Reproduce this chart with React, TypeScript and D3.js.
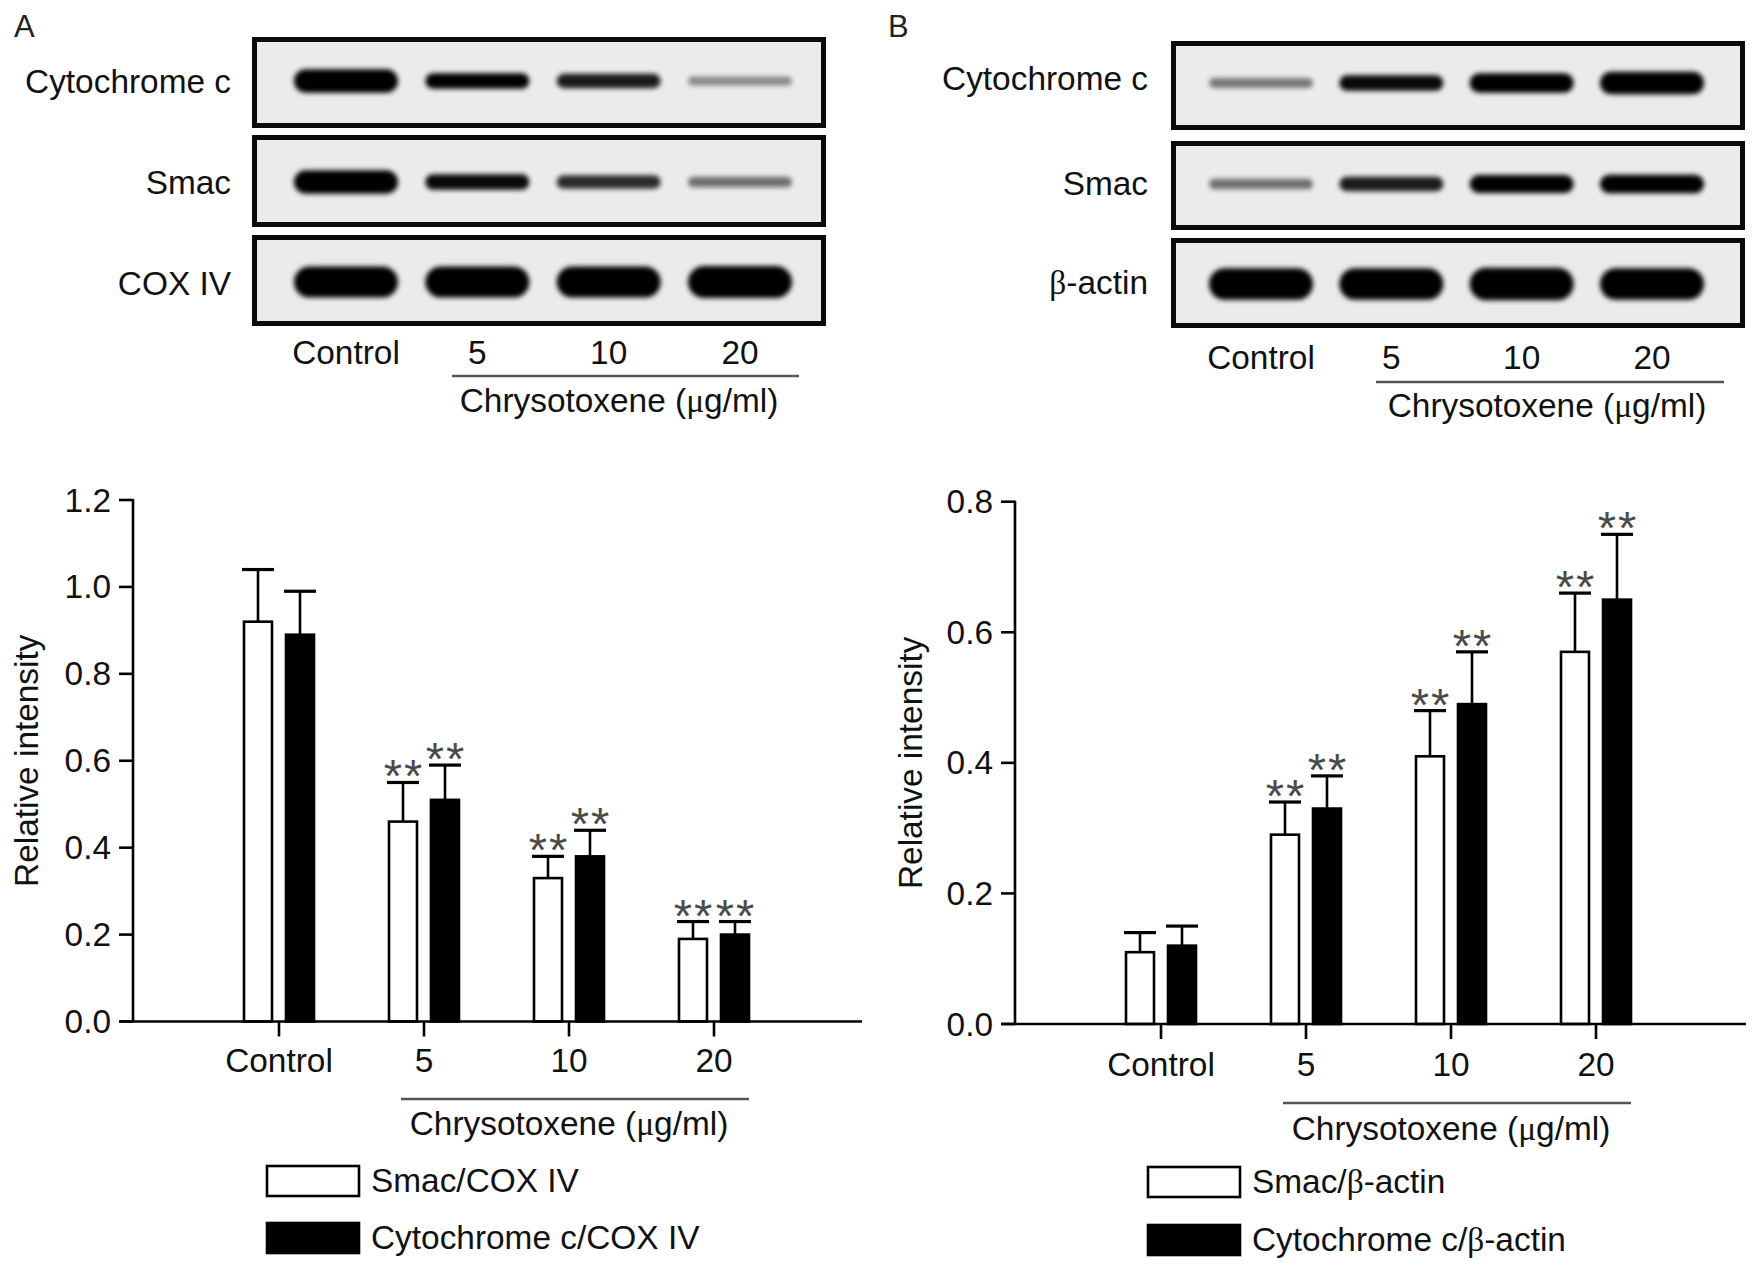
import React from "react";
import * as d3 from "d3";

// ---------- Data ----------
const categories = ["Control", "5", "10", "20"];

// Panel A (mitochondrial fraction, normalised to COX IV)
const smacA = [0.92, 0.46, 0.33, 0.19];
const smacAErr = [0.12, 0.09, 0.05, 0.04];
const cytA = [0.89, 0.51, 0.38, 0.2];
const cytAErr = [0.1, 0.08, 0.06, 0.03];
const sigA = [false, true, true, true];
const yTicksA = [0, 0.2, 0.4, 0.6, 0.8, 1.0, 1.2];

// Panel B (cytosolic fraction, normalised to beta-actin)
const smacB = [0.11, 0.29, 0.41, 0.57];
const smacBErr = [0.03, 0.05, 0.07, 0.09];
const cytB = [0.12, 0.33, 0.49, 0.65];
const cytBErr = [0.03, 0.05, 0.08, 0.1];
const sigB = [false, true, true, true];
const yTicksB = [0, 0.2, 0.4, 0.6, 0.8];

// Blot band signal (relative darkness of each band)
const blotA_cytc = [1.0, 0.62, 0.56, 0.3];
const blotA_smac = [1.0, 0.6, 0.52, 0.36];
const blotA_cox = [1.35, 1.35, 1.35, 1.4];
const blotB_cytc = [0.34, 0.6, 0.8, 0.95];
const blotB_smac = [0.36, 0.56, 0.72, 0.76];
const blotB_actin = [1.38, 1.38, 1.42, 1.38];

const legendA = ["Smac/COX IV", "Cytochrome c/COX IV"];
const legendB = ["Smac/β-actin", "Cytochrome c/β-actin"];

const FONT = "'Liberation Sans', Arial, Helvetica, sans-serif";
const SERIF = "'Liberation Serif', 'Times New Roman', serif";
const FS = 33.4;

// ---------- helpers ----------
function WithGreek({ text }: { text: string }) {
  const parts = text.split(/([βμ])/);
  return (
    <>
      {parts.map((p, i) =>
        p === "β" || p === "μ" ? (
          <tspan key={i} fontFamily={SERIF}>
            {p}
          </tspan>
        ) : (
          <tspan key={i}>{p}</tspan>
        )
      )}
    </>
  );
}

type BlotProps = {
  x0: number;
  x1: number;
  rows: { label: string; top: number; bottom: number; bandY: number; labelY: number; signal: number[] }[];
  laneRange: [number, number];
  labelX: number;
  laneLabelY: number;
  lineY: number;
  lineX: [number, number];
  titleY: number;
  titleX: number;
  filterId: string;
};

function Blot(p: BlotProps) {
  const lane = d3.scalePoint<string>().domain(categories).range(p.laneRange);
  const thick = d3.scaleLinear().domain([0.3, 1.4]).range([9, 32]);
  const dark = d3.scaleLinear().domain([0.3, 0.62]).range([0.42, 1]).clamp(true);
  const bandW = 104;
  return (
    <g>
      <defs>
        <filter id={p.filterId} x="-20%" y="-60%" width="140%" height="220%">
          <feGaussianBlur stdDeviation="2.6" />
        </filter>
      </defs>
      {p.rows.map((r) => (
        <g key={r.label}>
          <rect
            x={p.x0 + 2.5}
            y={r.top + 2.5}
            width={p.x1 - p.x0 - 5}
            height={r.bottom - r.top - 5}
            fill="#ebebeb"
            stroke="#0a0a0a"
            strokeWidth={5}
          />
          {r.signal.map((s, i) => {
            const h = thick(s);
            const cx = lane(categories[i])!;
            return (
              <rect
                key={i}
                x={cx - bandW / 2}
                y={r.bandY - h / 2}
                width={bandW}
                height={h}
                rx={h / 2}
                ry={h / 2}
                fill="#000"
                opacity={dark(s)}
                filter={`url(#${p.filterId})`}
              />
            );
          })}
          <text
            x={p.labelX}
            y={r.labelY}
            textAnchor="end"
            fontSize={FS}
            fontFamily={FONT}
            fill="#111"
          >
            <WithGreek text={r.label} />
          </text>
        </g>
      ))}
      {categories.map((c) => (
        <text
          key={c}
          x={lane(c)!}
          y={p.laneLabelY}
          textAnchor="middle"
          fontSize={FS}
          fontFamily={FONT}
          fill="#111"
        >
          {c}
        </text>
      ))}
      <line x1={p.lineX[0]} x2={p.lineX[1]} y1={p.lineY} y2={p.lineY} stroke="#555" strokeWidth={2.5} />
      <text x={p.titleX} y={p.titleY} textAnchor="middle" fontSize={FS} fontFamily={FONT} fill="#111">
        <WithGreek text="Chrysotoxene (μg/ml)" />
      </text>
    </g>
  );
}

type ChartProps = {
  axisX: number;
  axisEnd: number;
  yZero: number;
  yTopPx: number;
  yMax: number;
  ticks: number[];
  catRange: [number, number];
  smac: number[];
  smacErr: number[];
  cyt: number[];
  cytErr: number[];
  sig: boolean[];
  catLabelY: number;
  underlineY: number;
  titleY: number;
  yLabelX: number;
  legend: string[];
  legendX: number;
  legendY: [number, number];
};

function BarChart(p: ChartProps) {
  const y = d3.scaleLinear().domain([0, p.yMax]).range([p.yZero, p.yTopPx]);
  const x = d3.scalePoint<string>().domain(categories).range(p.catRange);
  const barW = 28;
  const off = 21;
  const capW = 32;
  const tickLen = 14;
  const series = [
    { vals: p.smac, err: p.smacErr, fill: "#fff", dx: -off },
    { vals: p.cyt, err: p.cytErr, fill: "#000", dx: off },
  ];
  const sw = 2.6;
  const x5 = x("5")!;
  const x20 = x("20")!;
  return (
    <g fontFamily={FONT}>
      {/* bars */}
      {series.map((s, si) =>
        s.vals.map((v, i) => {
          const cx = x(categories[i])! + s.dx;
          const top = y(v);
          const et = y(v + s.err[i]);
          return (
            <g key={`${si}-${i}`}>
              <line x1={cx} x2={cx} y1={top} y2={et} stroke="#000" strokeWidth={sw} />
              <line x1={cx - capW / 2} x2={cx + capW / 2} y1={et} y2={et} stroke="#000" strokeWidth={sw + 0.6} />
              <rect
                x={cx - barW / 2}
                y={top}
                width={barW}
                height={p.yZero - top}
                fill={s.fill}
                stroke="#000"
                strokeWidth={sw}
              />
              {p.sig[i] && (
                <text
                  x={cx + 1}
                  y={et + 10}
                  textAnchor="middle"
                  fontSize={47}
                  letterSpacing={2}
                  fill="#4a4a4a"
                >
                  **
                </text>
              )}
            </g>
          );
        })
      )}
      {/* y axis */}
      <line x1={p.axisX} x2={p.axisX} y1={p.yZero} y2={y(p.yMax) - 1} stroke="#000" strokeWidth={2.6} />
      {p.ticks.map((t) => (
        <g key={t}>
          <line x1={p.axisX - tickLen} x2={p.axisX} y1={y(t)} y2={y(t)} stroke="#000" strokeWidth={2.6} />
          <text x={p.axisX - tickLen - 8} y={y(t) + 11.5} textAnchor="end" fontSize={FS} fill="#111">
            {d3.format(".1f")(t)}
          </text>
        </g>
      ))}
      {/* x axis */}
      <line x1={p.axisX - tickLen} x2={p.axisEnd} y1={p.yZero} y2={p.yZero} stroke="#000" strokeWidth={2.6} />
      {categories.map((c) => (
        <g key={c}>
          <line x1={x(c)!} x2={x(c)!} y1={p.yZero} y2={p.yZero + 15} stroke="#000" strokeWidth={2.6} />
          <text x={x(c)!} y={p.catLabelY} textAnchor="middle" fontSize={FS} fill="#111">
            {c}
          </text>
        </g>
      ))}
      <line x1={x5 - 23} x2={x20 + 35} y1={p.underlineY} y2={p.underlineY} stroke="#555" strokeWidth={2.5} />
      <text x={x("10")!} y={p.titleY} textAnchor="middle" fontSize={FS} fill="#111">
        <WithGreek text="Chrysotoxene (μg/ml)" />
      </text>
      <text
        transform={`translate(${p.yLabelX},${(p.yZero + y(p.yMax)) / 2}) rotate(-90)`}
        textAnchor="middle"
        fontSize={FS}
        fill="#111"
      >
        Relative intensity
      </text>
      {/* legend */}
      {p.legend.map((l, i) => (
        <g key={l}>
          <rect
            x={p.legendX}
            y={p.legendY[i]}
            width={92}
            height={30}
            fill={i === 0 ? "#fff" : "#000"}
            stroke="#000"
            strokeWidth={2.6}
          />
          <text x={p.legendX + 104} y={p.legendY[i] + 26} fontSize={FS} fill="#111">
            <WithGreek text={l} />
          </text>
        </g>
      ))}
    </g>
  );
}

export default function App() {
  return (
    <svg
      width={1758}
      height={1271}
      viewBox="0 0 1758 1271"
      style={{ position: "absolute", left: 0, top: 0, background: "#fff" }}
      fontFamily={FONT}
    >
      <rect width={1758} height={1271} fill="#fff" />
      <text x={14} y={37} fontSize={31} fill="#222">A</text>
      <text x={888} y={37} fontSize={31} fill="#222">B</text>

      <Blot
        x0={252}
        x1={826}
        rows={[
          { label: "Cytochrome c", top: 37, bottom: 128, bandY: 81, labelY: 93, signal: blotA_cytc },
          { label: "Smac", top: 135, bottom: 227, bandY: 182, labelY: 194, signal: blotA_smac },
          { label: "COX IV", top: 235, bottom: 326, bandY: 282, labelY: 295, signal: blotA_cox },
        ]}
        laneRange={[346, 740]}
        labelX={231}
        laneLabelY={364}
        lineY={376}
        lineX={[452, 799]}
        titleX={619}
        titleY={412}
        filterId="blurA"
      />
      <Blot
        x0={1171}
        x1={1745}
        rows={[
          { label: "Cytochrome c", top: 41, bottom: 130, bandY: 83, labelY: 90, signal: blotB_cytc },
          { label: "Smac", top: 141, bottom: 230, bandY: 184, labelY: 195, signal: blotB_smac },
          { label: "β-actin", top: 238, bottom: 328, bandY: 284, labelY: 294, signal: blotB_actin },
        ]}
        laneRange={[1261, 1652]}
        labelX={1148}
        laneLabelY={369}
        lineY={382}
        lineX={[1376, 1724]}
        titleX={1547}
        titleY={417}
        filterId="blurB"
      />

      <BarChart
        axisX={133}
        axisEnd={862}
        yZero={1021.5}
        yTopPx={500}
        yMax={1.2}
        ticks={yTicksA}
        catRange={[279, 714]}
        smac={smacA}
        smacErr={smacAErr}
        cyt={cytA}
        cytErr={cytAErr}
        sig={sigA}
        catLabelY={1072}
        underlineY={1099}
        titleY={1135}
        yLabelX={38}
        legend={legendA}
        legendX={267}
        legendY={[1166, 1223]}
      />
      <BarChart
        axisX={1015}
        axisEnd={1746}
        yZero={1024}
        yTopPx={501.7}
        yMax={0.8}
        ticks={yTicksB}
        catRange={[1161, 1596]}
        smac={smacB}
        smacErr={smacBErr}
        cyt={cytB}
        cytErr={cytBErr}
        sig={sigB}
        catLabelY={1076}
        underlineY={1103}
        titleY={1140}
        yLabelX={922}
        legend={legendB}
        legendX={1148}
        legendY={[1167, 1225]}
      />
    </svg>
  );
}
